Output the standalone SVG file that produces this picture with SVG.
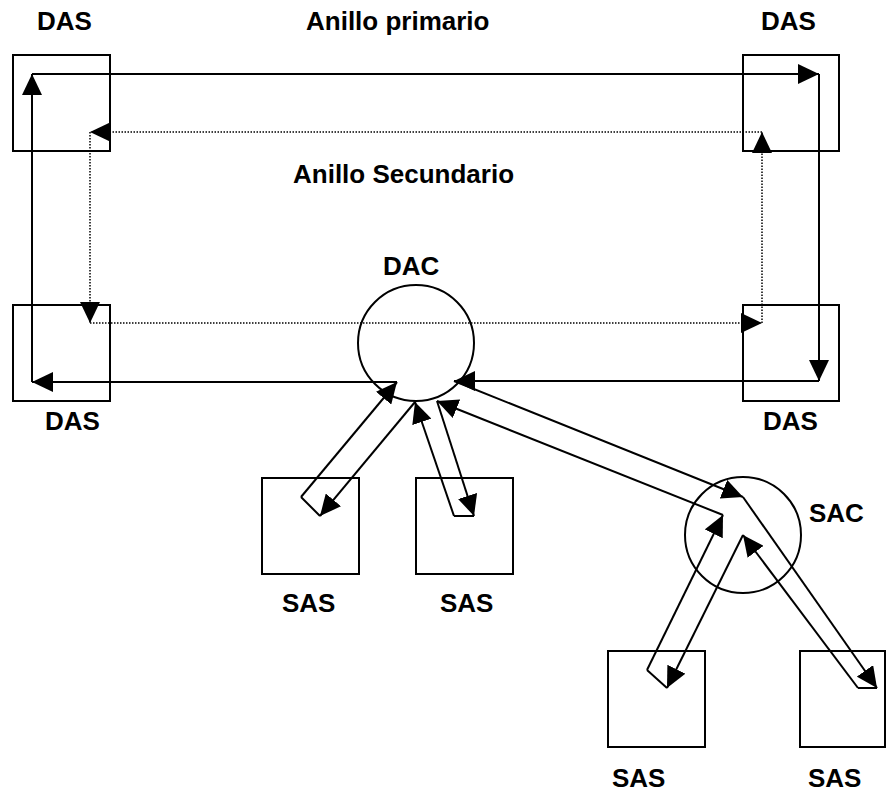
<svg xmlns="http://www.w3.org/2000/svg" width="888" height="795" viewBox="0 0 888 795">
  <style>
    .box { fill: none; stroke: #000; stroke-width: 2; }
    .ring { fill: none; stroke: #000; stroke-width: 2; }
    .pri { stroke: #000; stroke-width: 2; fill: none; }
    .sec { stroke: #000; stroke-width: 1.5; fill: none; stroke-dasharray: 1.5 1.5; }
    .lbl { font-family: "Liberation Sans", Arial, sans-serif; font-weight: bold; font-size: 26px; fill: #000; }
  </style>
  <defs>
    <marker id="head" markerUnits="userSpaceOnUse" markerWidth="22" markerHeight="20" refX="21" refY="10" orient="auto">
      <path d="M0,0 L21,10 L0,20 Z" fill="#000"/>
    </marker>
  </defs>

  <rect width="888" height="795" fill="#fff"/>

  <!-- Dual-attached stations -->
  <g id="das-top-left">
    <rect class="box" x="13" y="55" width="97" height="96"/>
    <text class="lbl" x="37" y="30">DAS</text>
  </g>
  <g id="das-top-right">
    <rect class="box" x="743" y="55" width="96" height="96"/>
    <text class="lbl" x="761" y="30">DAS</text>
  </g>
  <g id="das-bottom-left">
    <rect class="box" x="13" y="305" width="97" height="96"/>
    <text class="lbl" x="45" y="430">DAS</text>
  </g>
  <g id="das-bottom-right">
    <rect class="box" x="743" y="305" width="96" height="96"/>
    <text class="lbl" x="763" y="430">DAS</text>
  </g>

  <!-- Concentrators -->
  <g id="dac">
    <circle class="ring" cx="416" cy="343" r="58"/>
    <text class="lbl" x="383" y="275">DAC</text>
  </g>
  <g id="sac">
    <circle class="ring" cx="743" cy="535" r="58"/>
    <text class="lbl" x="809" y="522">SAC</text>
  </g>

  <!-- Single-attached stations -->
  <g id="sas-1">
    <rect class="box" x="262" y="478" width="97" height="96"/>
    <text class="lbl" x="282" y="612">SAS</text>
  </g>
  <g id="sas-2">
    <rect class="box" x="416" y="478" width="97" height="96"/>
    <text class="lbl" x="440" y="612">SAS</text>
  </g>
  <g id="sas-3">
    <rect class="box" x="608" y="651" width="97" height="96"/>
    <text class="lbl" x="612" y="787">SAS</text>
  </g>
  <g id="sas-4">
    <rect class="box" x="800" y="651" width="85" height="96"/>
    <text class="lbl" x="808" y="787">SAS</text>
  </g>

  <!-- Ring titles -->
  <g id="titles">
    <text class="lbl" x="306" y="30">Anillo primario</text>
    <text class="lbl" x="293" y="183">Anillo Secundario</text>
  </g>

  <g id="connectors">
    <!-- primary ring, through the concentrator tree -->
    <line class="pri" x1="32" y1="74" x2="819" y2="74" marker-end="url(#head)"/>
    <line class="pri" x1="819" y1="74" x2="819" y2="381" marker-end="url(#head)"/>
    <line class="pri" x1="819" y1="381" x2="454" y2="381" marker-end="url(#head)"/>
    <line class="pri" x1="454" y1="381" x2="743" y2="497" marker-end="url(#head)"/>
    <line class="pri" x1="743" y1="497" x2="877" y2="688" marker-end="url(#head)"/>
    <line class="pri" x1="877" y1="688" x2="858" y2="688"/>
    <line class="pri" x1="858" y1="688" x2="743" y2="535" marker-end="url(#head)"/>
    <line class="pri" x1="743" y1="535" x2="667" y2="688" marker-end="url(#head)"/>
    <line class="pri" x1="667" y1="688" x2="647" y2="670"/>
    <line class="pri" x1="647" y1="670" x2="723" y2="515" marker-end="url(#head)"/>
    <line class="pri" x1="723" y1="515" x2="437" y2="401" marker-end="url(#head)"/>
    <line class="pri" x1="437" y1="401" x2="474" y2="516" marker-end="url(#head)"/>
    <line class="pri" x1="474" y1="516" x2="454" y2="516"/>
    <line class="pri" x1="454" y1="516" x2="415" y2="402" marker-end="url(#head)"/>
    <line class="pri" x1="415" y1="402" x2="320" y2="516" marker-end="url(#head)"/>
    <line class="pri" x1="320" y1="516" x2="301" y2="497"/>
    <line class="pri" x1="301" y1="497" x2="397" y2="382" marker-end="url(#head)"/>
    <line class="pri" x1="397" y1="382" x2="32" y2="382" marker-end="url(#head)"/>
    <line class="pri" x1="32" y1="382" x2="32" y2="74" marker-end="url(#head)"/>

    <!-- secondary ring -->
    <line class="sec" x1="762" y1="132" x2="90" y2="132" marker-end="url(#head)"/>
    <line class="sec" x1="90" y1="132" x2="90" y2="323" marker-end="url(#head)"/>
    <line class="sec" x1="90" y1="323" x2="762" y2="323" marker-end="url(#head)"/>
    <line class="sec" x1="762" y1="323" x2="762" y2="132" marker-end="url(#head)"/>
  </g>
</svg>
